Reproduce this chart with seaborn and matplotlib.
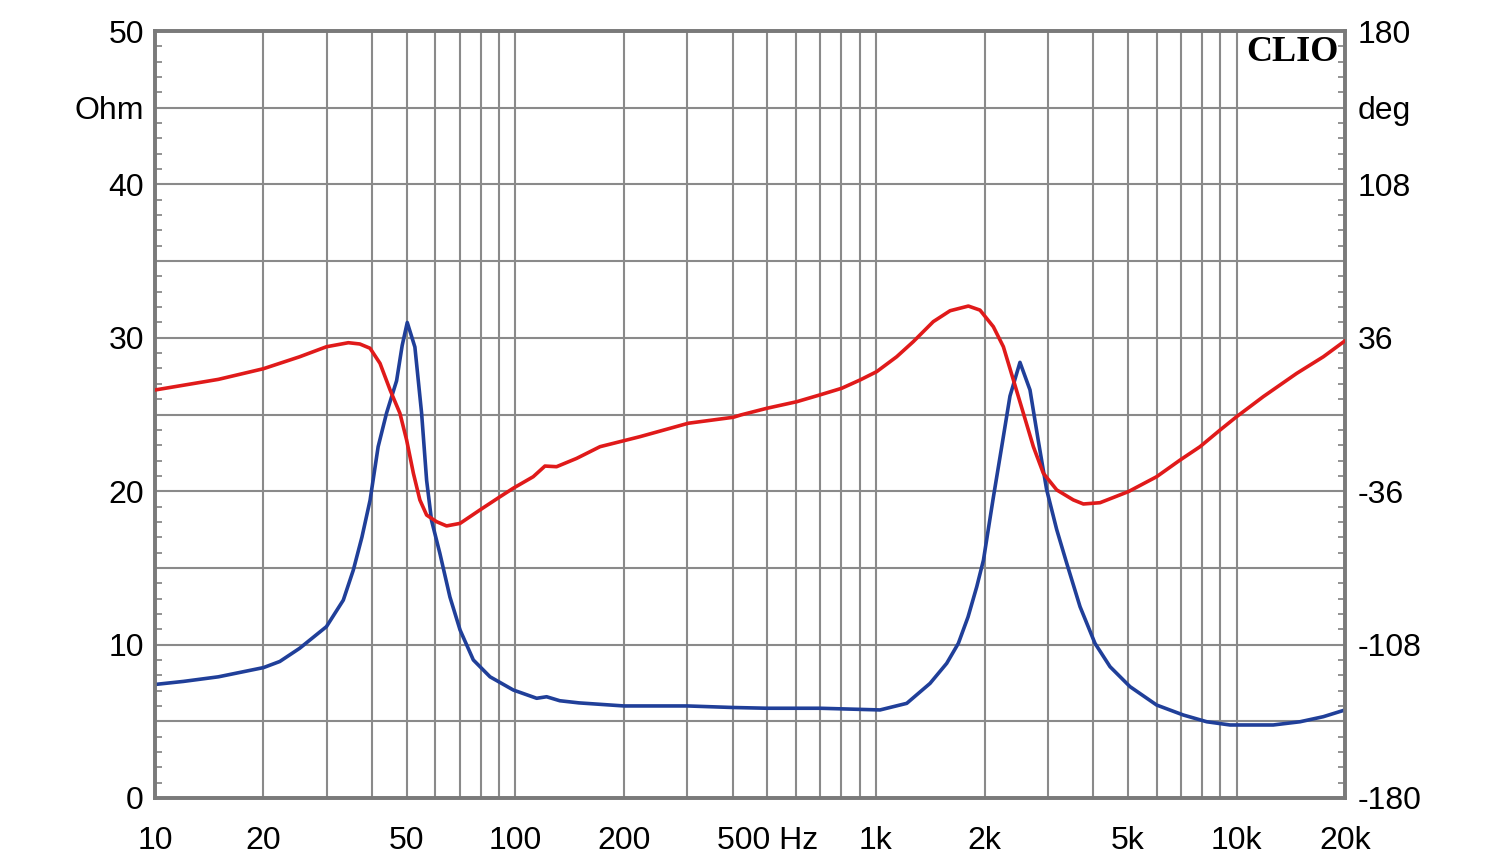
import matplotlib
matplotlib.use("Agg")
import matplotlib.pyplot as plt
import matplotlib.ticker as mticker
import seaborn as sns
import pandas as pd

# Impedance magnitude (blue)
imp_freq = [10, 12, 15, 20, 22.2, 25.2, 29.9, 33.3, 35.5, 37.5, 39.5, 41.6, 43.9, 46.8,
            48.5, 50.1, 52.6, 54.9, 56.7, 58.5, 61.7, 65.8, 70.2, 76.4, 85, 98.6, 114.5,
            122, 132.7, 150, 200, 300, 400, 500, 700, 1026, 1217, 1412, 1571, 1692,
            1800, 1903, 1986, 2116, 2232, 2353, 2508, 2674, 2819, 2974, 3171, 3381,
            3681, 4050, 4458, 5064, 6004, 7118, 8267, 9594, 12647, 15004, 17407, 20000]
imp_ohm = [7.4, 7.6, 7.9, 8.5, 8.9, 9.76, 11.17, 12.9, 14.86, 17.0, 19.4, 22.9, 25.1, 27.2,
           29.5, 31.0, 29.4, 25.1, 20.7, 18.1, 15.95, 13.1, 10.95, 9.0, 7.9, 7.04, 6.5,
           6.6, 6.34, 6.2, 6.0, 6.0, 5.9, 5.85, 5.85, 5.74, 6.17, 7.47, 8.78, 10.08,
           11.8, 13.77, 15.5, 19.6, 22.9, 26.2, 28.4, 26.6, 23.3, 20.1, 17.5, 15.3,
           12.47, 10.08, 8.56, 7.26, 6.06, 5.41, 4.97, 4.76, 4.76, 4.97, 5.3, 5.74]

# Phase (red), degrees
ph_freq = [10, 15, 20, 25.2, 29.9, 34.4, 37, 39.5, 42.1, 44.9, 47.8, 49.9, 52.1, 54.3,
           56.7, 60.4, 64.4, 70.2, 79.7, 90.6, 98.6, 112, 120.7, 130, 147.8, 171.6,
           221.5, 301.6, 402, 422, 497.5, 602.6, 699, 803, 903, 1004, 1141, 1269,
           1442, 1605, 1804, 1943, 2116, 2256, 2405, 2563, 2732, 2912, 3172, 3527,
           3760, 4182, 5012, 6004, 6970, 7921, 9000, 10010, 11867, 14685, 17410, 20000]
ph_deg = [11.5, 16.5, 21.5, 27.1, 31.8, 33.7, 33.1, 31.1, 24.0, 11.5, 0.6, -12, -27.6, -40.1,
          -47.2, -50.3, -52.3, -51.1, -44.8, -38.6, -34.6, -29.2, -24.2, -24.5, -20.6, -15.1,
          -10.4, -4.1, -1.3, -0.2, 2.9, 6.0, 9.2, 12.3, 16.2, 20.1, 27.1, 34.2,
          43.6, 48.7, 50.9, 49.0, 41.2, 31.8, 16.2, 0.6, -15.1, -27.6, -35.4, -40.1,
          -42.0, -41.4, -36.2, -29.2, -21.4, -15.1, -7.3, -1.0, 8.4, 19.3, 27.1, 34.6]

x_ticks = [10, 20, 50, 100, 200, 500, 1000, 2000, 5000, 10000, 20000]
x_labels = ["10", "20", "50", "100", "200", "500 Hz", "1k", "2k", "5k", "10k", "20k"]

imp = pd.DataFrame({"freq": imp_freq, "ohm": imp_ohm})
ph = pd.DataFrame({"freq": ph_freq, "deg": ph_deg})

sns.set_style("white")
plt.rcParams["font.family"] = ["Liberation Sans", "DejaVu Sans"]

grid_c = "#8a8a8a"
fig = plt.figure(figsize=(15, 8.64), dpi=100)
ax = fig.add_axes([0.1033, 0.0764, 0.7934, 0.8877])
ax2 = ax.twinx()

sns.lineplot(data=imp, x="freq", y="ohm", ax=ax, color="#203f99", linewidth=2.6, zorder=3)
sns.lineplot(data=ph, x="freq", y="deg", ax=ax2, color="#e01a1a", linewidth=2.6, zorder=3)

ax.set_xscale("log")
ax.set_xlim(10, 20000)
ax.set_ylim(0, 50)
ax2.set_ylim(-180, 180)

ax.xaxis.set_major_locator(mticker.FixedLocator(x_ticks))
ax.xaxis.set_major_formatter(mticker.FixedFormatter(x_labels))
ax.xaxis.set_minor_locator(mticker.LogLocator(base=10, subs=range(2, 10), numticks=20))
ax.xaxis.set_minor_formatter(mticker.NullFormatter())

yt = list(range(0, 55, 5))
ax.set_yticks(yt)
ax.set_yticklabels(["0", "", "10", "", "20", "", "30", "", "40", "Ohm", "50"])
ax.yaxis.set_minor_locator(mticker.MultipleLocator(1))

dt = [-180 + 36 * i for i in range(11)]
ax2.set_yticks(dt)
ax2.set_yticklabels(["-180", "", "-108", "", "-36", "", "36", "", "108", "deg", "180"])
ax2.yaxis.set_minor_locator(mticker.MultipleLocator(7.2))

ax.grid(True, which="both", axis="x", color=grid_c, linewidth=1.5)
ax.grid(True, which="major", axis="y", color=grid_c, linewidth=1.5)
ax2.grid(False)

ax.tick_params(axis="x", which="both", length=0, labelsize=23, pad=20, labelcolor="black")
ax.tick_params(axis="y", which="major", length=0, labelsize=23, pad=8, labelcolor="black")
ax.tick_params(axis="y", which="minor", direction="in", length=5, width=1.3, color=grid_c, left=True)
ax2.tick_params(axis="y", which="major", length=0, labelsize=23, pad=9, labelcolor="black")
ax2.tick_params(axis="y", which="minor", direction="in", length=5, width=1.3, color=grid_c, right=True)

for a in (ax, ax2):
    a.set_xlabel("")
    a.set_ylabel("")
    for s in a.spines.values():
        s.set_color("#7a7a7a")
        s.set_linewidth(2.6)

ax.text(0.995, 0.993, "CLIO", transform=ax.transAxes, ha="right", va="top",
        fontfamily="Liberation Serif", fontweight="bold", fontsize=26, color="black", zorder=5)

plt.savefig("out.png", dpi=100)
